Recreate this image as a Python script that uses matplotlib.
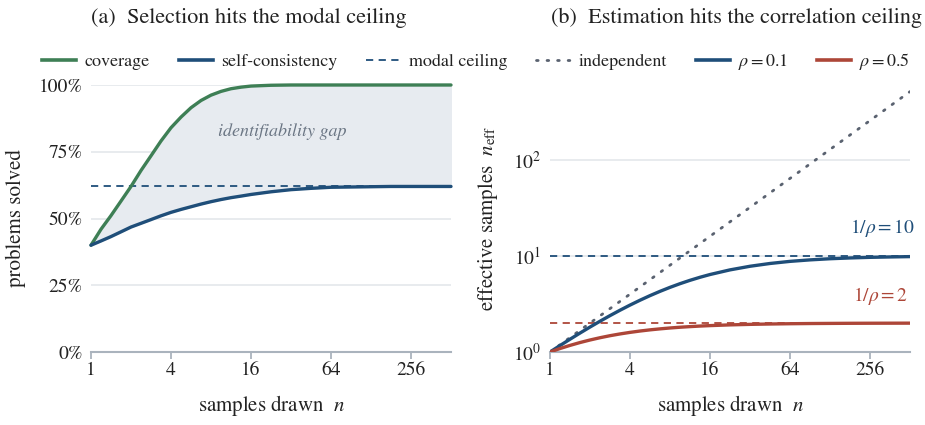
import matplotlib
matplotlib.use("Agg")
import matplotlib.pyplot as plt
from matplotlib.lines import Line2D
from matplotlib.ticker import FixedLocator, NullLocator, LogFormatterSciNotation

plt.rcParams['font.family'] = ['STIXGeneral', 'DejaVu Serif']
plt.rcParams['mathtext.fontset'] = 'stix'

# ---- data ----
n_vals = [1, 1.19, 1.41, 1.68, 2, 2.38, 2.83, 3.36, 4, 4.76, 5.66, 6.73, 8, 9.51, 11.3, 13.5, 16,
          22.6, 32, 45.3, 64, 90.5, 128, 181, 256, 362, 512]
coverage = [0.40, 0.46, 0.51, 0.565, 0.62, 0.68, 0.735, 0.79, 0.84, 0.88, 0.915, 0.942, 0.962, 0.976,
            0.986, 0.992, 0.996, 0.999, 1.0, 1.0, 1.0, 1.0, 1.0, 1.0, 1.0, 1.0, 1.0]
self_consistency = [0.40, 0.416, 0.432, 0.45, 0.468, 0.482, 0.496, 0.51, 0.523, 0.534, 0.544, 0.554,
                    0.563, 0.571, 0.578, 0.584, 0.59, 0.60, 0.608, 0.613, 0.617, 0.618, 0.619, 0.62,
                    0.62, 0.62, 0.62]
modal_ceiling = 0.62
independent = [1, 1.19, 1.41, 1.68, 2, 2.38, 2.83, 3.36, 4, 4.76, 5.66, 6.73, 8, 9.51, 11.3, 13.5, 16,
               22.6, 32, 45.3, 64, 90.5, 128, 181, 256, 362, 512]
rho01 = [1.0, 1.168, 1.354, 1.573, 1.818, 2.091, 2.392, 2.718, 3.077, 3.459, 3.861, 4.278, 4.706, 5.138,
         5.567, 6.0, 6.4, 7.15, 7.80, 8.34, 8.77, 9.09, 9.34, 9.52, 9.66, 9.75, 9.83]
rho05 = [1.0, 1.087, 1.17, 1.254, 1.333, 1.408, 1.478, 1.541, 1.6, 1.653, 1.70, 1.741, 1.778, 1.81,
         1.837, 1.862, 1.882, 1.915, 1.939, 1.956, 1.969, 1.978, 1.984, 1.989, 1.992, 1.994, 1.996]
ceil01 = 10
ceil05 = 2
x_ticks = [1, 4, 16, 64, 256]
x_ticklabels = ["1", "4", "16", "64", "256"]
left_yticks = [0, 0.25, 0.5, 0.75, 1.0]
left_yticklabels = ["0%", "25%", "50%", "75%", "100%"]

GREEN = "#3e7f55"
BLUE = "#1f4e79"
RED = "#ad4638"
GREY = "#5a6270"
GRID = "#e4e7eb"
SPINE = "#aab3bd"
FILL = "#e7ebf0"
TXT = "#222222"

fig = plt.figure(figsize=(9.25, 4.25), dpi=100)
axL = fig.add_axes([91 / 925, 73 / 425, 360 / 925, 267 / 425])
axR = fig.add_axes([550 / 925, 73 / 425, 360 / 925, 267 / 425])

def style(ax):
    ax.set_xscale('log', base=2)
    ax.set_xlim(1, 512)
    for s in ['top', 'right', 'left']:
        ax.spines[s].set_visible(False)
    ax.spines['bottom'].set_color(SPINE)
    ax.spines['bottom'].set_linewidth(1.5)
    ax.xaxis.set_major_locator(FixedLocator(x_ticks))
    ax.xaxis.set_minor_locator(NullLocator())
    ax.set_xticklabels(x_ticklabels)
    ax.tick_params(axis='x', colors=SPINE, length=5, width=1.3, labelsize=14, labelcolor=TXT, pad=2)
    ax.tick_params(axis='y', length=0, labelsize=14, labelcolor=TXT, pad=6)
    ax.grid(axis='y', color=GRID, linewidth=1.2)
    ax.set_axisbelow(True)
    ax.set_xlabel("samples drawn  $n$", fontsize=15, color=TXT, labelpad=10)

style(axL)
style(axR)

# ---- left panel ----
axL.set_ylim(0, 1.0)
axL.set_yticks(left_yticks)
axL.set_yticklabels(left_yticklabels)
axL.fill_between(n_vals, self_consistency, coverage, color=FILL, zorder=1)
axL.plot(n_vals, coverage, color=GREEN, lw=2.4, zorder=3, clip_on=False, solid_capstyle='round')
axL.plot(n_vals, self_consistency, color=BLUE, lw=2.4, zorder=3, clip_on=False, solid_capstyle='round')
axL.plot([1, 512], [modal_ceiling, modal_ceiling], color=BLUE, lw=1.3, ls=(0, (4, 3)), zorder=2)
axL.text(27.6, 0.824, "identifiability gap", style='italic', color="#6b7684", fontsize=13,
         ha='center', va='center')
axL.set_ylabel("problems solved", fontsize=15, color=TXT)
axL.yaxis.set_label_coords(-0.18, 0.5)
fig.text(91 / 925, 1 - 18 / 425, "(a)  Selection hits the modal ceiling", fontsize=16, color=TXT,
         ha='left', va='center')

# ---- right panel ----
axR.set_yscale('log')
axR.set_ylim(1, 600)
axR.yaxis.set_major_locator(FixedLocator([1, 10, 100]))
axR.yaxis.set_minor_locator(NullLocator())
axR.yaxis.set_major_formatter(LogFormatterSciNotation())
axR.plot(n_vals, independent, color=GREY, lw=2.0, ls=(0, (0.6, 3.2)), dash_capstyle='round', zorder=2)
axR.plot([1, 512], [ceil01, ceil01], color=BLUE, lw=1.3, ls=(0, (4, 3)), zorder=2)
axR.plot([1, 512], [ceil05, ceil05], color=RED, lw=1.3, ls=(0, (4, 3)), zorder=2)
axR.plot(n_vals, rho01, color=BLUE, lw=2.4, zorder=3, solid_capstyle='round')
axR.plot(n_vals, rho05, color=RED, lw=2.4, zorder=3, solid_capstyle='round')
axR.text(558, 19.6, r"$1/\rho = 10$", color=BLUE, fontsize=14, ha='right', va='center', clip_on=False)
axR.text(495, 3.82, r"$1/\rho = 2$", color=RED, fontsize=14, ha='right', va='center', clip_on=False)
axR.set_ylabel(r"effective samples  $n_{\rm eff}$", fontsize=15, color=TXT)
axR.yaxis.set_label_coords(-0.14, 0.5)
fig.text(551 / 925, 1 - 18 / 425, "(b)  Estimation hits the correlation ceiling", fontsize=16, color=TXT,
         ha='left', va='center')

# ---- legend ----
handles = [
    Line2D([], [], color=GREEN, lw=2.6),
    Line2D([], [], color=BLUE, lw=2.6),
    Line2D([], [], color=BLUE, lw=1.3, ls=(0, (4, 3))),
    Line2D([], [], color=GREY, lw=2.0, ls=(0, (0.6, 3.2)), dash_capstyle='round'),
    Line2D([], [], color=BLUE, lw=2.6),
    Line2D([], [], color=RED, lw=2.6),
]
labels = ["coverage", "self-consistency", "modal ceiling", "independent", r"$\rho = 0.1$", r"$\rho = 0.5$"]
fig.legend(handles, labels, loc='center', bbox_to_anchor=(476 / 925, 1 - 62 / 425), ncol=6, frameon=False,
           fontsize=13, handlelength=1.9, columnspacing=1.6, handletextpad=0.45, labelcolor=TXT,
           borderaxespad=0, borderpad=0)

fig.savefig("out.png", dpi=100)
